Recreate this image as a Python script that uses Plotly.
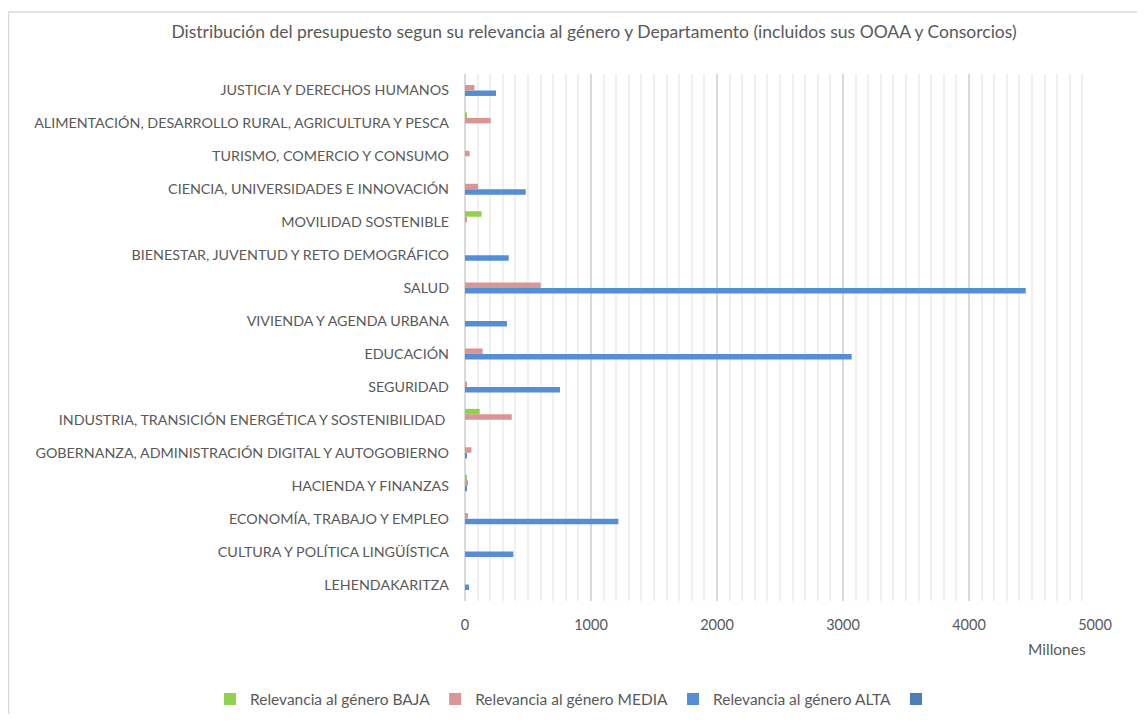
import plotly.graph_objects as go

categories = [
    "LEHENDAKARITZA",
    "CULTURA Y POLÍTICA LINGÜÍSTICA",
    "ECONOMÍA, TRABAJO Y EMPLEO",
    "HACIENDA Y FINANZAS",
    "GOBERNANZA, ADMINISTRACIÓN DIGITAL Y AUTOGOBIERNO",
    "INDUSTRIA, TRANSICIÓN ENERGÉTICA Y SOSTENIBILIDAD ",
    "SEGURIDAD",
    "EDUCACIÓN",
    "VIVIENDA Y AGENDA URBANA",
    "SALUD",
    "BIENESTAR, JUVENTUD Y RETO DEMOGRÁFICO",
    "MOVILIDAD SOSTENIBLE",
    "CIENCIA, UNIVERSIDADES E INNOVACIÓN",
    "TURISMO, COMERCIO Y CONSUMO",
    "ALIMENTACIÓN, DESARROLLO RURAL, AGRICULTURA Y PESCA",
    "JUSTICIA Y DERECHOS HUMANOS",
]

baja = [0, 0, 0, 10, 0, 117, 0, 0, 0, 0, 0, 132, 0, 0, 14, 0]
media = [0, 0, 24, 24, 51, 371, 10, 140, 0, 601, 0, 10, 103, 37, 204, 75]
alta = [32, 384, 1217, 12, 16, 0, 754, 3069, 333, 4450, 347, 0, 482, 0, 0, 246]
blank = [0] * len(categories)

series_names = ["Relevancia al género BAJA", "Relevancia al género MEDIA",
                "Relevancia al género ALTA", ""]
colors = ["#92D050", "#DA9694", "#558ED5", "#4A7EBB"]

title_text = ("Distribución del presupuesto segun su relevancia al género y "
              "Departamento (incluidos sus OOAA y Consorcios)")

FONT = "Lato"
GREY = "#595959"

fig = go.Figure()
# plotly draws the first horizontal trace lowest within a group
for vals, name, col in [(blank, series_names[3], colors[3]),
                        (alta, series_names[2], colors[2]),
                        (media, series_names[1], colors[1]),
                        (baja, series_names[0], colors[0])]:
    fig.add_trace(go.Bar(
        y=categories, x=vals, name=name, orientation="h",
        marker=dict(color=col, line=dict(width=0)),
    ))

OFF = 8  # default body margin of the html page
W, H = 1145 - 2 * OFF, 722 - 2 * OFF
PL, PR, PT, PB = 465, 1095, 73.5, 601.5  # plot area in page pixels
L, R, T, B = PL - OFF, W - (PR - OFF), PT - OFF, H - (PB - OFF)
pw, ph = PR - PL, PB - PT

def px2x(px):
    return (px - PL) / pw

def py2y(py):
    return (PB - py) / ph

def cx(px):
    return (px - OFF) / W

def cy(py):
    return 1 - (py - OFF) / H

fig.update_layout(
    width=W, height=H,
    margin=dict(l=L, r=R, t=T, b=B, pad=0, autoexpand=False),
    paper_bgcolor="white", plot_bgcolor="white",
    barmode="group", bargap=0.333, bargroupgap=0,
    font=dict(family=FONT, color=GREY, size=14),
    title=dict(text=title_text, x=cx(594), xanchor="center", xref="container",
               y=cy(32), yref="container", yanchor="middle",
               font=dict(family=FONT, size=17.5, color=GREY)),
    showlegend=True,
    legend=dict(orientation="h", traceorder="reversed",
                xref="paper", yref="paper",
                x=px2x(210), xanchor="left", y=py2y(700), yanchor="middle",
                font=dict(family=FONT, size=15.5, color=GREY)),
    xaxis=dict(range=[0, 5000], dtick=1000, tick0=0, automargin=False,
               showgrid=True, gridcolor="#D9D9D9", gridwidth=1.5,
               minor=dict(dtick=100, showgrid=True, gridcolor="#F0F0F0", gridwidth=1.5),
               zeroline=True, zerolinecolor="#D9D9D9", zerolinewidth=1.5,
               showline=False, ticks="", ticklabelstandoff=13,
               tickfont=dict(family=FONT, size=14.5, color=GREY), fixedrange=True),
    yaxis=dict(type="category", categoryorder="array", categoryarray=categories,
               automargin=False,
               showgrid=False, showline=False, ticks="", ticklabelstandoff=15,
               tickfont=dict(family=FONT, size=14.3, color=GREY), fixedrange=True),
    annotations=[dict(text="Millones", xref="paper", yref="paper",
                      x=px2x(1057), y=py2y(650), xanchor="center", yanchor="middle",
                      showarrow=False, font=dict(family=FONT, size=15.5, color=GREY))],
    shapes=[dict(type="rect", xref="paper", yref="paper",
                 x0=px2x(8.5), x1=px2x(1170), y0=py2y(760), y1=py2y(11.5),
                 line=dict(color="#D9D9D9", width=1.5), fillcolor="rgba(0,0,0,0)",
                 layer="below")],
)

fig.write_html("out.html")
